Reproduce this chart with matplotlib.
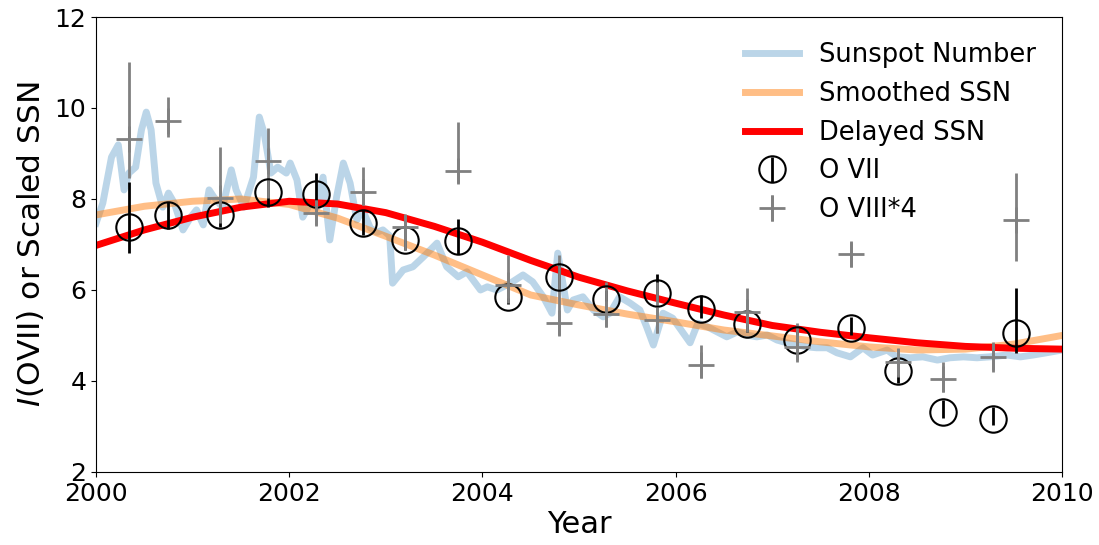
import numpy as np
import matplotlib
matplotlib.use("Agg")
import matplotlib.pyplot as plt

# monthly-ish sunspot number (scaled)
ssn_year = [2000.00, 2000.07, 2000.16, 2000.23, 2000.29, 2000.34, 2000.41, 2000.47, 2000.52, 2000.57,
            2000.62, 2000.69, 2000.75, 2000.81, 2000.90, 2000.98, 2001.04, 2001.11, 2001.17, 2001.22,
            2001.31, 2001.40, 2001.45, 2001.53, 2001.63, 2001.69, 2001.74, 2001.81, 2001.88, 2001.97,
            2002.01, 2002.08, 2002.14, 2002.22, 2002.29, 2002.35, 2002.42, 2002.49, 2002.56, 2002.63,
            2002.70, 2002.76, 2002.84, 2002.91, 2002.97, 2003.04, 2003.07, 2003.18, 2003.28, 2003.39,
            2003.53, 2003.63, 2003.75, 2003.84, 2003.98, 2004.05, 2004.15, 2004.29, 2004.42, 2004.52,
            2004.63, 2004.72, 2004.78, 2004.88, 2004.94, 2005.04, 2005.15, 2005.25, 2005.32, 2005.42,
            2005.53, 2005.63, 2005.70, 2005.77, 2005.87, 2005.97, 2006.07, 2006.15, 2006.23, 2006.33,
            2006.43, 2006.53, 2006.64, 2006.74, 2006.84, 2006.95, 2007.05, 2007.15, 2007.26, 2007.36,
            2007.46, 2007.57, 2007.67, 2007.81, 2007.94, 2008.04, 2008.19, 2008.29, 2008.43, 2008.56,
            2008.71, 2008.84, 2008.98, 2009.12, 2009.25, 2009.43, 2009.57, 2009.70, 2009.84, 2010.00]
ssn_val = [7.47, 7.91, 8.92, 9.19, 8.20, 8.57, 8.70, 9.52, 9.91, 9.52,
           8.35, 7.82, 8.13, 7.91, 7.32, 7.60, 7.76, 7.43, 8.20, 8.04,
           7.82, 8.64, 8.20, 7.82, 8.48, 9.80, 9.45, 8.57, 8.70, 8.57,
           8.79, 8.42, 7.60, 7.91, 7.82, 8.48, 7.10, 8.04, 8.79, 8.35,
           7.54, 7.76, 7.36, 7.27, 7.32, 7.19, 6.15, 6.44, 6.51, 6.73,
           7.03, 6.51, 6.29, 6.40, 6.00, 6.07, 6.00, 6.15, 6.33, 6.18,
           5.85, 5.49, 6.81, 5.56, 5.78, 5.85, 5.56, 5.41, 5.49, 5.85,
           5.71, 5.56, 5.19, 4.79, 5.49, 5.38, 5.08, 4.84, 5.27, 5.19,
           5.08, 4.97, 5.08, 5.01, 4.97, 5.01, 4.90, 4.84, 4.79, 4.75,
           4.73, 4.73, 4.62, 4.53, 4.73, 4.57, 4.68, 4.53, 4.51, 4.53,
           4.46, 4.51, 4.53, 4.51, 4.53, 4.57, 4.53, 4.57, 4.62, 4.68]

# smoothed and delayed curves, half-year samples
curve_year = [2000.0, 2000.5, 2001.0, 2001.5, 2002.0, 2002.5, 2003.0, 2003.5, 2004.0, 2004.5, 2005.0,
              2005.5, 2006.0, 2006.5, 2007.0, 2007.5, 2008.0, 2008.5, 2009.0, 2009.5, 2010.0]
smooth_val = [7.65, 7.84, 7.95, 8.00, 7.88, 7.58, 7.18, 6.77, 6.33, 5.89, 5.67,
              5.47, 5.30, 5.12, 4.99, 4.86, 4.75, 4.68, 4.70, 4.81, 5.00]
delayed_val = [6.98, 7.32, 7.60, 7.82, 7.95, 7.89, 7.70, 7.40, 7.05, 6.65, 6.28,
               5.98, 5.71, 5.45, 5.22, 5.07, 4.95, 4.84, 4.76, 4.72, 4.70]

# observations
obs_year = [2000.34, 2000.75, 2001.28, 2001.78, 2002.28, 2002.76, 2003.20, 2003.75, 2004.27, 2004.79,
            2005.28, 2005.81, 2006.26, 2006.74, 2007.26, 2007.82, 2008.30, 2008.77, 2009.29, 2009.52]
o7 = [7.38, 7.65, 7.65, 8.15, 8.11, 7.47, 7.10, 7.08, 5.85, 6.29,
      5.80, 5.93, 5.58, 5.25, 4.90, 5.16, 4.22, 3.32, 3.16, 5.05]
o7_lo = [0.57, 0.31, 0.26, 0.33, 0.18, 0.26, 0.22, 0.29, 0.15, 0.31,
         0.20, 0.15, 0.20, 0.18, 0.20, 0.15, 0.26, 0.13, 0.13, 0.44]
o7_hi = [0.99, 0.29, 0.29, 0.26, 0.46, 0.29, 0.29, 0.48, 0.24, 0.33,
         0.20, 0.42, 0.31, 0.31, 0.20, 0.24, 0.24, 0.26, 0.26, 0.99]
o8 = [9.32, 9.71, 8.02, 8.84, 7.69, 8.15, 7.38, 8.62, 6.11, 5.27,
      5.47, 5.34, 4.35, 5.52, 4.75, 6.79, 4.42, 4.04, 4.53, 7.54]
o8_lo = [0.86, 0.35, 0.55, 0.81, 0.26, 0.29, 0.51, 0.26, 0.40, 0.26,
         0.29, 0.29, 0.29, 0.44, 0.33, 0.29, 0.33, 0.29, 0.33, 0.90]
o8_hi = [1.69, 0.53, 1.12, 0.73, 0.29, 0.55, 0.26, 1.08, 0.66, 1.49,
         0.70, 0.84, 0.44, 0.53, 0.53, 0.26, 0.31, 0.37, 0.33, 1.03]

fig = plt.figure(figsize=(10.99, 5.45), dpi=100)
ax = fig.add_axes([0.0874, 0.134, 0.8789, 0.8348])

ax.plot(ssn_year, ssn_val, color="C0", alpha=0.3, lw=5, label="Sunspot Number")
ax.plot(curve_year, smooth_val, color="C1", alpha=0.5, lw=5, label="Smoothed SSN")
ax.plot(curve_year, delayed_val, color="red", lw=5, label="Delayed SSN")
ax.errorbar(obs_year, o7, yerr=[o7_lo, o7_hi], fmt="o", mfc="none", mec="k", ecolor="k",
            ms=19, mew=1.5, elinewidth=2, label="O VII")
ax.errorbar(obs_year, o8, yerr=[o8_lo, o8_hi], fmt="+", color="grey", ms=19, mew=2,
            elinewidth=2, label="O VIII*4")

ax.set_xlim(2000, 2010)
ax.set_ylim(2, 12)
ax.set_xticks([2000, 2002, 2004, 2006, 2008, 2010])
ax.set_yticks([2, 4, 6, 8, 10, 12])
ax.tick_params(labelsize=18)
ax.set_xlabel("Year", fontsize=22, labelpad=3)
ax.set_ylabel("$I$(OVII) or Scaled SSN", fontsize=22.5, labelpad=6)
ax.legend(loc="upper right", bbox_to_anchor=(0.992, 0.985), frameon=False, fontsize=18.5,
          handlelength=2.1, handletextpad=0.8, borderaxespad=0.3)

fig.savefig("out.png", dpi=100)
